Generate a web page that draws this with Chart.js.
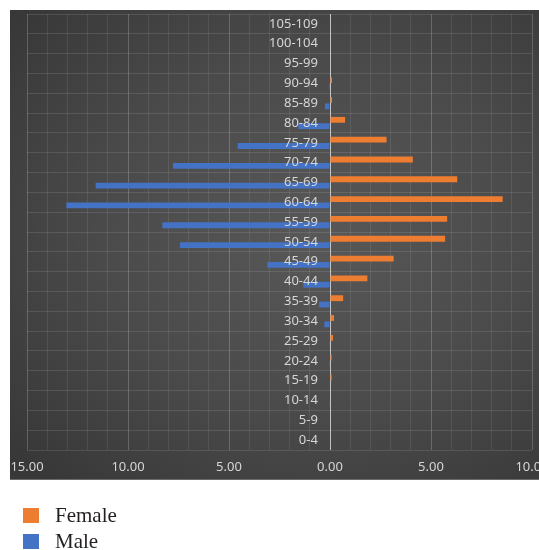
<!DOCTYPE html>
<html>
<head>
<meta charset="utf-8">
<script src="https://cdn.jsdelivr.net/npm/chart.js@4/dist/chart.umd.min.js"></script>
<style>
  html, body { margin: 0; padding: 0; background: #ffffff; }
  body { width: 539px; height: 550px; overflow: hidden; position: relative; }
  #panel {
    position: absolute; left: 10px; top: 10px; width: 529px; height: 469px;
    background: radial-gradient(ellipse 75% 70% at 58% 48%, #585858 0%, #4a4a4a 55%, #383838 100%);
    border-bottom: 1px solid #6a6a6a;
  }
  #chart { position: absolute; left: 0; top: 0; }
  #legend {
    position: absolute; left: 23px; top: 502px;
    font-family: "Liberation Serif", "DejaVu Serif", serif; font-size: 21px; color: #231f20;
  }
  #legend .item { display: flex; align-items: center; height: 26px; }
  #legend .box { width: 16px; height: 15px; margin-right: 16px; }
</style>
</head>
<body>
<div id="panel"></div>
<canvas id="chart" width="539" height="550"></canvas>
<div id="legend"></div>
<script>
// Age groups, oldest at the top
const ageGroups = ['105-109', '100-104', '95-99', '90-94', '85-89', '80-84', '75-79', '70-74',
  '65-69', '60-64', '55-59', '50-54', '45-49', '40-44', '35-39', '30-34', '25-29', '20-24',
  '15-19', '10-14', '5-9', '0-4'];

// Share of population (%), female on the right
const femaleValues = [0, 0, 0, 0.1, 0.1, 0.75, 2.8, 4.1, 6.3, 8.55, 5.8, 5.7, 3.15, 1.85, 0.65,
  0.2, 0.15, 0.08, 0.08, 0, 0, 0];

// Share of population (%), male on the left (drawn as negative values)
const maleValues = [0, 0, 0, 0.05, 0.25, 1.57, 4.57, 7.77, 11.6, 13.05, 8.3, 7.43, 3.1, 1.32,
  0.54, 0.28, 0.04, 0.04, 0.03, 0.04, 0, 0];

const axisMin = -15;
const axisMax = 10;
const majorStep = 5;

const tickFont = { family: '"Noto Sans", "Open Sans", sans-serif', size: 13 };
const tickColor = '#d6d6d6';

const chart = new Chart(document.getElementById('chart'), {
  type: 'bar',
  data: {
    labels: ageGroups,
    datasets: [
      {
        label: 'Female',
        data: femaleValues,
        backgroundColor: '#ed7d31',
        categoryPercentage: 0.64,
        barPercentage: 0.92
      },
      {
        label: 'Male',
        data: maleValues.map(v => -v),
        backgroundColor: '#4472c4',
        categoryPercentage: 0.64,
        barPercentage: 0.92
      }
    ]
  },
  options: {
    indexAxis: 'y',
    responsive: false,
    animation: false,
    layout: { padding: { left: 27, top: 14, right: 7, bottom: 70 } },
    plugins: {
      legend: { display: false },
      tooltip: { enabled: false }
    },
    scales: {
      x: {
        type: 'linear',
        min: axisMin,
        max: axisMax,
        border: { display: false },
        grid: {
          drawTicks: false,
          lineWidth: 1,
          color: ctx => {
            const v = ctx.tick.value;
            if (v === 0) return '#c2c2c2';
            if (v % majorStep === 0) return 'rgba(255,255,255,0.2)';
            return 'rgba(255,255,255,0.085)';
          }
        },
        ticks: {
          stepSize: 1,
          autoSkip: false,
          maxRotation: 0,
          padding: 9,
          color: tickColor,
          font: tickFont,
          callback: v => (v % majorStep === 0 ? Math.abs(v).toFixed(2) : '')
        },
        afterFit: s => { s.paddingLeft = 0; s.paddingRight = 0; s.height = 30; }
      },
      y: {
        position: { x: -0.6 },
        border: { display: false },
        grid: {
          drawTicks: false,
          offset: true,
          color: 'rgba(255,255,255,0.11)'
        },
        ticks: {
          z: 1,
          padding: 0,
          color: tickColor,
          font: tickFont
        },
        afterFit: s => { s.paddingTop = 0; s.paddingBottom = 0; }
      }
    }
  }
});

// Legend listed vertically below the chart
const legend = document.getElementById('legend');
chart.data.datasets.forEach(ds => {
  const item = document.createElement('div');
  item.className = 'item';
  const box = document.createElement('span');
  box.className = 'box';
  box.style.background = ds.backgroundColor;
  const text = document.createElement('span');
  text.textContent = ds.label;
  item.appendChild(box);
  item.appendChild(text);
  legend.appendChild(item);
});
</script>
</body>
</html>
